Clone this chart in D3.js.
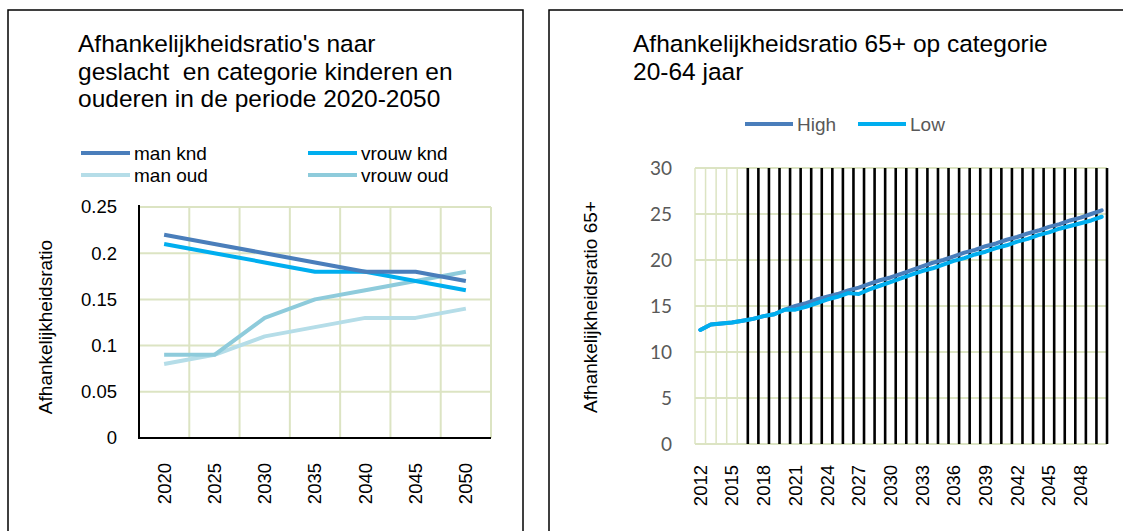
<!DOCTYPE html>
<html>
<head>
<meta charset="utf-8">
<script src="https://cdn.jsdelivr.net/npm/d3@7"></script>
<style>
  body { margin: 0; background: #fff; }
  svg { display: block; font-family: "Liberation Sans", Arial, sans-serif; }
</style>
</head>
<body>
<div id="chart"></div>
<script>
// left chart data
const years1 = ["2020", "2025", "2030", "2035", "2040", "2045", "2050"];
const manKnd = [0.22, 0.21, 0.20, 0.19, 0.18, 0.18, 0.17];
const vrouwKnd = [0.21, 0.20, 0.19, 0.18, 0.18, 0.17, 0.16];
const manOud = [0.08, 0.09, 0.11, 0.12, 0.13, 0.13, 0.14];
const vrouwOud = [0.09, 0.09, 0.13, 0.15, 0.16, 0.17, 0.18];
const ticks1 = [0, 0.05, 0.1, 0.15, 0.2, 0.25];

// right chart data
const years2 = ["2012", "2013", "2014", "2015", "2016", "2017", "2018", "2019", "2020",
  "2021", "2022", "2023", "2024", "2025", "2026", "2027", "2028", "2029", "2030",
  "2031", "2032", "2033", "2034", "2035", "2036", "2037", "2038", "2039", "2040",
  "2041", "2042", "2043", "2044", "2045", "2046", "2047", "2048", "2049", "2050"];
const high = [12.4, 13.0, 13.1, 13.2, 13.4, 13.6, 13.9, 14.1, 14.6,
  15.0, 15.3, 15.7, 16.0, 16.3, 16.7, 17.0, 17.4, 17.8, 18.1,
  18.5, 18.9, 19.3, 19.7, 20.0, 20.4, 20.8, 21.1, 21.5, 21.8,
  22.2, 22.5, 22.9, 23.2, 23.6, 23.9, 24.3, 24.6, 25.0, 25.4];
const low = [12.4, 13.0, 13.1, 13.2, 13.4, 13.6, 13.9, 14.1, 14.6,
  14.6, 14.9, 15.3, 15.7, 16.0, 16.4, 16.3, 16.8, 17.2, 17.6,
  18.0, 18.4, 18.8, 19.1, 19.5, 19.9, 20.2, 20.6, 20.9, 21.3,
  21.6, 22.0, 22.3, 22.7, 23.0, 23.4, 23.7, 24.0, 24.3, 24.7];
const ticks2 = [0, 5, 10, 15, 20, 25, 30];
const firstBlack = "2017";

const gridColor = "#dce4c3";

const svg = d3.select("#chart").append("svg")
  .attr("width", 1123)
  .attr("height", 531);

// panel frames
svg.append("rect").attr("x", 8).attr("y", 10).attr("width", 515).attr("height", 540)
  .attr("fill", "none").attr("stroke", "#000").attr("stroke-width", 1.5);
svg.append("rect").attr("x", 549).attr("y", 10).attr("width", 600).attr("height", 540)
  .attr("fill", "none").attr("stroke", "#000").attr("stroke-width", 1.5);

// ---------- left chart ----------
const x1 = d3.scaleBand().domain(years1).range([139, 491]);
const y1 = d3.scaleLinear().domain([0, 0.25]).range([438, 207]);

const title1 = ["Afhankelijkheidsratio's naar", "geslacht\u00a0 en categorie kinderen en", "ouderen in de periode 2020-2050"];
svg.append("text")
  .attr("x", 78).attr("y", 52)
  .attr("font-size", 24.5)
  .selectAll("tspan").data(title1).enter().append("tspan")
  .attr("x", 78).attr("dy", (d, i) => i === 0 ? 0 : 27.5)
  .text(d => d);

// grid
const g1 = svg.append("g");
g1.selectAll(".hg").data(ticks1).enter().append("line")
  .attr("x1", 139).attr("x2", 491)
  .attr("y1", d => y1(d)).attr("y2", d => y1(d))
  .attr("stroke", gridColor).attr("stroke-width", 2);
g1.selectAll(".vg").data(years1.slice(1).concat(["end"])).enter().append("line")
  .attr("x1", d => d === "end" ? 491 : x1(d)).attr("x2", d => d === "end" ? 491 : x1(d))
  .attr("y1", 207).attr("y2", 438)
  .attr("stroke", gridColor).attr("stroke-width", 2);

// axes
const yAxis1 = svg.append("g")
  .attr("transform", "translate(139,0)")
  .call(d3.axisLeft(y1).tickValues(ticks1).tickSize(0).tickPadding(22).tickFormat(d => String(d)));
yAxis1.select(".domain").remove();
yAxis1.selectAll("text").attr("font-size", 18.5).attr("fill", "#000")
  .attr("font-family", "Liberation Sans, Arial, sans-serif");

const xAxis1 = svg.append("g")
  .attr("transform", "translate(0,438)")
  .call(d3.axisBottom(x1).tickSize(0));
xAxis1.select(".domain").remove();
xAxis1.selectAll("text")
  .attr("font-size", 18.5).attr("fill", "#000")
  .attr("font-family", "Liberation Sans, Arial, sans-serif")
  .attr("transform", "rotate(-90)")
  .attr("text-anchor", "end")
  .attr("x", -25).attr("y", 0).attr("dy", "0.35em");

svg.append("line").attr("x1", 139).attr("x2", 139).attr("y1", 205).attr("y2", 439)
  .attr("stroke", "#000").attr("stroke-width", 2);
svg.append("line").attr("x1", 138).attr("x2", 491).attr("y1", 438).attr("y2", 438)
  .attr("stroke", "#000").attr("stroke-width", 2);

svg.append("text")
  .attr("transform", "translate(52,327) rotate(-90)")
  .attr("text-anchor", "middle")
  .attr("font-size", 19)
  .text("Afhankelijkheidsratio");

const series1 = [
  { name: "man knd", values: manKnd, color: "#4a7ebb" },
  { name: "vrouw knd", values: vrouwKnd, color: "#00aeef" },
  { name: "man oud", values: manOud, color: "#b5dde8" },
  { name: "vrouw oud", values: vrouwOud, color: "#8ecbdb" }
];
const line1 = d3.line()
  .x((d, i) => x1(years1[i]) + x1.bandwidth() / 2)
  .y(d => y1(d));
const drawOrder = [2, 3, 1, 0];
drawOrder.forEach(k => {
  svg.append("path")
    .attr("d", line1(series1[k].values))
    .attr("fill", "none")
    .attr("stroke", series1[k].color)
    .attr("stroke-width", 4)
    .attr("stroke-linejoin", "round");
});

// legend
const legPos = [[81, 153], [308, 153], [81, 175], [308, 175]];
series1.forEach((s, i) => {
  const [lx, ly] = legPos[i];
  svg.append("line").attr("x1", lx).attr("x2", lx + 49).attr("y1", ly).attr("y2", ly)
    .attr("stroke", s.color).attr("stroke-width", 4);
  svg.append("text").attr("x", lx + 53).attr("y", ly + 7)
    .attr("font-size", 19).text(s.name);
});

// ---------- right chart ----------
const x2 = d3.scaleBand().domain(years2).range([695, 1107]);
const y2 = d3.scaleLinear().domain([0, 30]).range([444, 168]);

const title2 = ["Afhankelijkheidsratio 65+ op categorie", "20-64 jaar"];
svg.append("text")
  .attr("x", 633).attr("y", 52)
  .attr("font-size", 24.5)
  .selectAll("tspan").data(title2).enter().append("tspan")
  .attr("x", 633).attr("dy", (d, i) => i === 0 ? 0 : 27.5)
  .text(d => d);

const g2 = svg.append("g");
g2.selectAll(".hg").data(ticks2).enter().append("line")
  .attr("x1", 695).attr("x2", 1107)
  .attr("y1", d => y2(d)).attr("y2", d => y2(d))
  .attr("stroke", gridColor).attr("stroke-width", 2);
const blackIdx = years2.indexOf(firstBlack);
g2.selectAll(".vg").data(years2.concat(["end"])).enter().append("line")
  .attr("x1", d => d === "end" ? 1107 : x2(d)).attr("x2", d => d === "end" ? 1107 : x2(d))
  .attr("y1", 168).attr("y2", 444)
  .attr("stroke", (d, i) => i >= blackIdx ? "#000" : gridColor)
  .attr("stroke-width", (d, i) => i >= blackIdx ? 2.6 : 1.5);

const yAxis2 = svg.append("g")
  .attr("transform", "translate(695,0)")
  .call(d3.axisLeft(y2).tickValues(ticks2).tickSize(0).tickPadding(23));
yAxis2.select(".domain").remove();
yAxis2.selectAll("text").attr("font-size", 19).attr("fill", "#595959")
  .attr("font-family", "Lato, sans-serif");

const xAxis2 = svg.append("g")
  .attr("transform", "translate(0,444)")
  .call(d3.axisBottom(x2).tickSize(0).tickValues(years2.filter((d, i) => i % 3 === 0)));
xAxis2.select(".domain").remove();
xAxis2.selectAll("text")
  .attr("font-size", 18.5).attr("fill", "#000")
  .attr("font-family", "Liberation Sans, Arial, sans-serif")
  .attr("transform", "rotate(-90)")
  .attr("text-anchor", "end")
  .attr("x", -21).attr("y", 0).attr("dy", "0.35em");

svg.append("text")
  .attr("transform", "translate(597,307) rotate(-90)")
  .attr("text-anchor", "middle")
  .attr("font-size", 19)
  .text("Afhankelijkheidsratio 65+");

const series2 = [
  { name: "High", values: high, color: "#4a7ebb" },
  { name: "Low", values: low, color: "#00aeef" }
];
const line2 = d3.line()
  .x((d, i) => x2(years2[i]) + x2.bandwidth() / 2)
  .y(d => y2(d));
series2.forEach(s => {
  svg.append("path")
    .attr("d", line2(s.values))
    .attr("fill", "none")
    .attr("stroke", s.color)
    .attr("stroke-width", 4)
    .attr("stroke-linejoin", "round")
    .attr("stroke-linecap", "round");
});

const legPos2 = [[745, 124], [858, 124]];
series2.forEach((s, i) => {
  const [lx, ly] = legPos2[i];
  svg.append("line").attr("x1", lx).attr("x2", lx + 48).attr("y1", ly).attr("y2", ly)
    .attr("stroke", s.color).attr("stroke-width", 4);
  svg.append("text").attr("x", lx + 52).attr("y", ly + 7)
    .attr("font-size", 19).attr("fill", "#595959").text(s.name);
});
</script>
</body>
</html>
